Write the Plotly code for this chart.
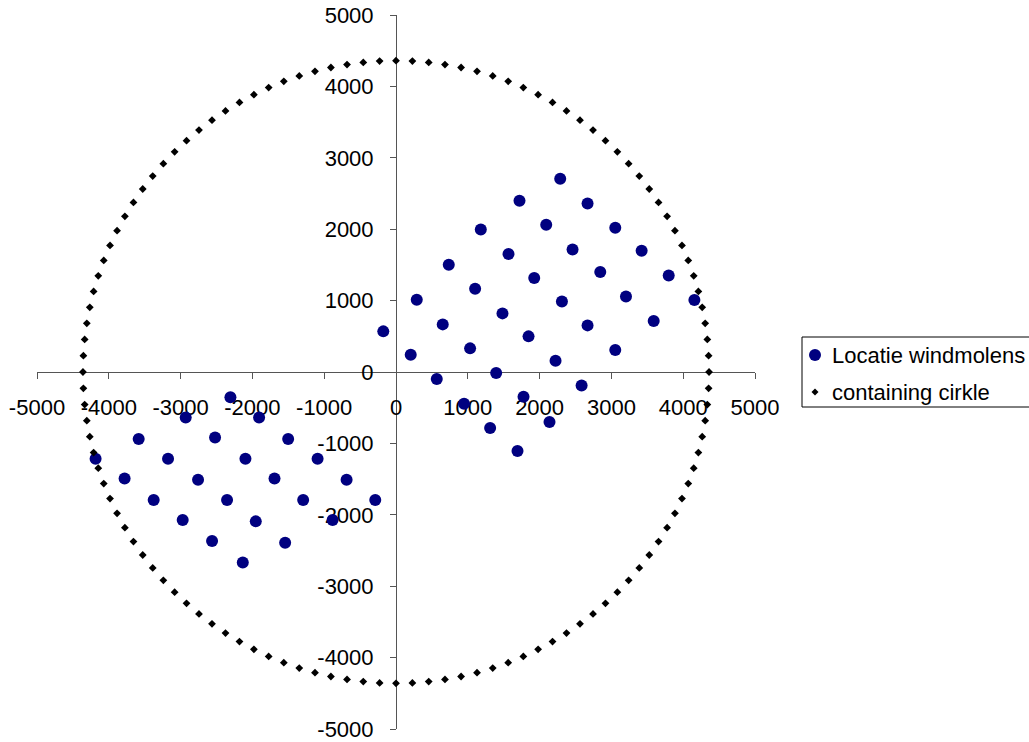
import numpy as np
import plotly.graph_objects as go

# Wind turbine locations
turbine_x = [-177, 205, 289, 568, 651, 735, 948, 1032, 1102, 1181, 1311, 1395, 1483, 1567,
             1720, 1692, 1776, 1846, 1925, 2092, 2287, 2138, 2222, 2311, 2459, 2668, 2585,
             2668, 2845, 3054, 3054, 3203, 3421, 3589, 3798, 4156,
             -2306, -2929, -1907, -3584, -2520, -1502, -4184, -3175, -2097, -1092, -3780,
             -2757, -1692, -688, -3375, -2353, -1293, -289, -2971, -1953, -883, -2562,
             -1544, -2134]
turbine_y = [569, 242, 1013, -98, 667, 1503, -444, 331, 1167, 1997, -784, -14, 821, 1653,
             2399, -1106, -346, 499, 1316, 2063, 2707, -700, 158, 989, 1717, 2361, -188,
             653, 1400, 2021, 308, 1059, 1699, 714, 1353, 1008,
             -355, -636, -636, -938, -916, -938, -1214, -1214, -1214, -1214, -1490,
             -1508, -1490, -1508, -1793, -1793, -1793, -1793, -2073, -2092, -2073, -2367,
             -2391, -2667]

# Containing circle: radius and angular step
circle_radius = 4360
circle_step_deg = 3
circle_angles = np.deg2rad(np.arange(0, 360, circle_step_deg))
circle_x = circle_radius * np.cos(circle_angles)
circle_y = circle_radius * np.sin(circle_angles)

tick_values = [-5000, -4000, -3000, -2000, -1000, 0, 1000, 2000, 3000, 4000, 5000]
tick_labels = ["-5000", "-4000", "-3000", "-2000", "-1000", "0", "1000", "2000", "3000", "4000", "5000"]

series_names = ["Locatie windmolens", "containing cirkle"]
TURBINE_COLOR = "#000080"
CIRCLE_COLOR = "#000000"

FONT = "Liberation Sans, Arial, sans-serif"
FS = 22

W, H = 1029, 742
ML, MR, MT, MB = 37, 274, 15, 13
PW, PH = W - ML - MR, H - MT - MB


def px_x(p):  # pixel -> paper x
    return (p - ML) / PW


def px_y(p):  # pixel (from top) -> paper y
    return (H - MB - p) / PH


fig = go.Figure()
fig.add_trace(go.Scatter(
    x=turbine_x, y=turbine_y, mode="markers", name=series_names[0],
    marker=dict(symbol="circle", size=12, color=TURBINE_COLOR),
))
fig.add_trace(go.Scatter(
    x=circle_x, y=circle_y, mode="markers", name=series_names[1],
    marker=dict(symbol="diamond", size=6, color=CIRCLE_COLOR),
))

axis_common = dict(
    range=[-5000, 5000], tickmode="array", tickvals=tick_values, ticktext=tick_labels,
    showgrid=False, zeroline=False, showline=True, linecolor="#555555", linewidth=1,
    ticks="outside", ticklen=6, tickcolor="#555555", anchor="free", position=0.5,
    layer="below traces", automargin=False,
    tickfont=dict(family=FONT, size=FS, color="#000000"),
)

# Legend drawn as a box, symbols and text labels (Excel-style layout)
leg_left, leg_top, leg_bottom = 802, 337, 407
sym_x, text_x = 815, 831
row_y = [355, 392]

shapes = [
    dict(type="rect", xref="paper", yref="paper",
         x0=px_x(leg_left), x1=px_x(W + 20), y0=px_y(leg_bottom), y1=px_y(leg_top),
         line=dict(color="#000000", width=1), fillcolor="white", layer="above"),
    dict(type="circle", xref="paper", yref="paper", xsizemode="pixel", ysizemode="pixel",
         xanchor=px_x(sym_x), yanchor=px_y(row_y[0]), x0=-6, x1=6, y0=-6, y1=6,
         line=dict(width=0), fillcolor=TURBINE_COLOR, layer="above"),
    dict(type="path", xref="paper", yref="paper", xsizemode="pixel", ysizemode="pixel",
         xanchor=px_x(sym_x), yanchor=px_y(row_y[1]),
         path="M -3.5 0 L 0 3.5 L 3.5 0 L 0 -3.5 Z",
         line=dict(width=0), fillcolor=CIRCLE_COLOR, layer="above"),
]
annotations = [
    dict(xref="paper", yref="paper", x=px_x(text_x), y=px_y(ry), text=name,
         xanchor="left", yanchor="middle", showarrow=False, borderpad=0,
         font=dict(family=FONT, size=FS, color="#000000"))
    for name, ry in zip(series_names, row_y)
]

fig.update_layout(
    width=W, height=H,
    margin=dict(l=ML, r=MR, t=MT, b=MB, autoexpand=False),
    paper_bgcolor="white", plot_bgcolor="white",
    font=dict(family=FONT, size=FS, color="#000000"),
    xaxis=dict(**axis_common, ticklabelstandoff=10),
    yaxis=dict(**axis_common, ticklabelstandoff=12),
    showlegend=False,
    shapes=shapes,
    annotations=annotations,
)

fig.write_html(
    "out.html",
    config={"displayModeBar": False},
    post_script="document.body.style.margin='0';document.body.style.overflow='hidden';",
)
